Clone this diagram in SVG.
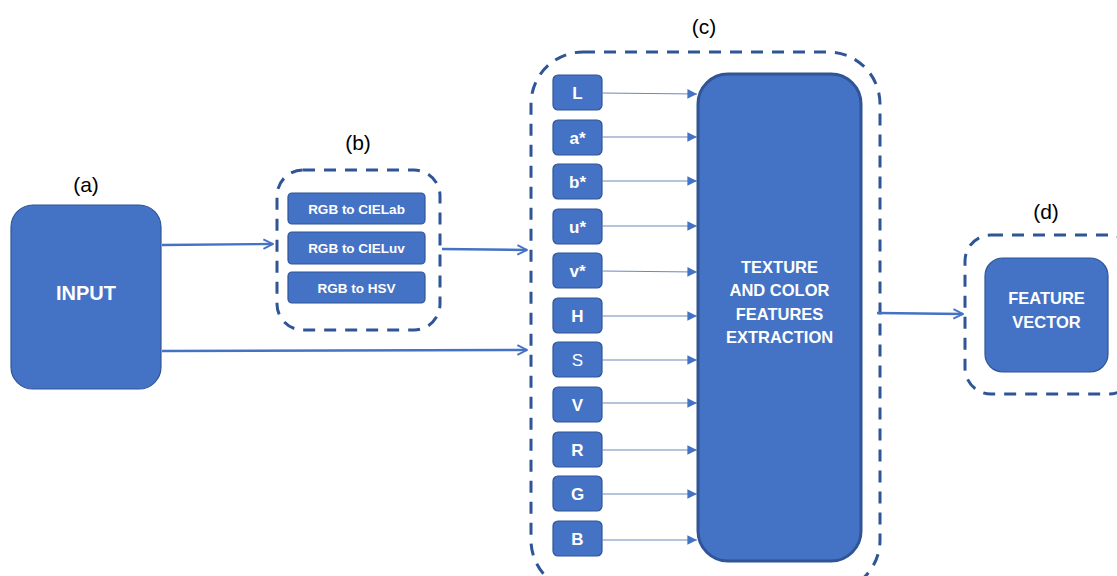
<svg xmlns="http://www.w3.org/2000/svg" width="1117" height="576" viewBox="0 0 1117 576">
  <style>
    .node { fill: #4472C4; stroke: #2F5597; stroke-width: 1.2; }
    .big { fill: #4472C4; stroke: #2F5597; stroke-width: 3; }
    .group { fill: none; stroke: #2F5597; stroke-width: 3; stroke-dasharray: 12 9; }
    .lbl { font-family: "Liberation Sans", Arial, sans-serif; font-weight: bold; fill: #FFFFFF; text-anchor: middle; }
    .cap { font-family: "Liberation Sans", Arial, sans-serif; font-size: 21px; fill: #000000; text-anchor: middle; }
    .main { fill: none; stroke: #4472C4; stroke-width: 2.4; }
    .thin { fill: none; stroke: #6E89B8; stroke-width: 1.2; }
  </style>
  <defs>
    <marker id="open" viewBox="0 0 10 10" refX="9" refY="5" markerWidth="5" markerHeight="5" orient="auto" markerUnits="strokeWidth">
      <path d="M1,1 L9,5 L1,9" fill="none" stroke="#4472C4" stroke-width="1.6"/>
    </marker>
    <marker id="tri" viewBox="0 0 10 10" refX="10" refY="5" markerWidth="8" markerHeight="8" orient="auto" markerUnits="strokeWidth">
      <path d="M0,0 L10,5 L0,10 Z" fill="#4472C4"/>
    </marker>
  </defs>

  <!-- captions -->
  <text class="cap" x="86" y="192">(a)</text>
  <text class="cap" x="358" y="150">(b)</text>
  <text class="cap" x="704" y="34">(c)</text>
  <text class="cap" x="1046" y="219">(d)</text>

  <!-- group outlines -->
  <rect class="group" x="277" y="170" width="163" height="160" rx="26"/>
  <rect class="group" x="531" y="52" width="349" height="540" rx="52"/>
  <rect class="group" x="965" y="235" width="170" height="159" rx="26"/>

  <g id="input">
    <rect class="node" x="11" y="205" width="150" height="184" rx="22"/>
    <text class="lbl" x="86" y="300" font-size="20">INPUT</text>
  </g>

  <g id="conversions">
    <rect class="node" x="288" y="193" width="137" height="31" rx="4"/>
    <text class="lbl" x="356.5" y="214" font-size="13.5">RGB to CIELab</text>
    <rect class="node" x="288" y="232" width="137" height="32" rx="4"/>
    <text class="lbl" x="356.5" y="253" font-size="13.5">RGB to CIELuv</text>
    <rect class="node" x="288" y="272" width="137" height="31" rx="4"/>
    <text class="lbl" x="356.5" y="293" font-size="13.5">RGB to HSV</text>
  </g>

  <g id="channels">
    <rect class="node" x="553" y="75" width="49" height="35" rx="5"/>
    <text class="lbl" x="577.5" y="99" font-size="17">L</text>
    <rect class="node" x="553" y="120" width="49" height="35" rx="5"/>
    <text class="lbl" x="577.5" y="144" font-size="17">a*</text>
    <rect class="node" x="553" y="164" width="49" height="35" rx="5"/>
    <text class="lbl" x="577.5" y="188" font-size="17">b*</text>
    <rect class="node" x="553" y="209" width="49" height="35" rx="5"/>
    <text class="lbl" x="577.5" y="233" font-size="17">u*</text>
    <rect class="node" x="553" y="253" width="49" height="35" rx="5"/>
    <text class="lbl" x="577.5" y="277" font-size="17">v*</text>
    <rect class="node" x="553" y="298" width="49" height="35" rx="5"/>
    <text class="lbl" x="577.5" y="322" font-size="17">H</text>
    <rect class="node" x="553" y="342" width="49" height="35" rx="5"/>
    <text class="lbl" x="577.5" y="366" font-size="17" style="font-weight:normal">S</text>
    <rect class="node" x="553" y="387" width="49" height="35" rx="5"/>
    <text class="lbl" x="577.5" y="411" font-size="17">V</text>
    <rect class="node" x="553" y="432" width="49" height="35" rx="5"/>
    <text class="lbl" x="577.5" y="456" font-size="17">R</text>
    <rect class="node" x="553" y="476" width="49" height="35" rx="5"/>
    <text class="lbl" x="577.5" y="500" font-size="17">G</text>
    <rect class="node" x="553" y="521" width="49" height="35" rx="5"/>
    <text class="lbl" x="577.5" y="545" font-size="17">B</text>
  </g>

  <g id="extraction">
    <rect class="big" x="698" y="74" width="163" height="487" rx="30"/>
    <text class="lbl" x="779.5" y="273" font-size="16.5">TEXTURE</text>
    <text class="lbl" x="779.5" y="296" font-size="16.5">AND COLOR</text>
    <text class="lbl" x="779.5" y="320" font-size="16.5">FEATURES</text>
    <text class="lbl" x="779.5" y="343" font-size="16.5">EXTRACTION</text>
  </g>

  <g id="feature-vector">
    <rect class="node" x="985" y="258" width="123" height="114" rx="18"/>
    <text class="lbl" x="1046.5" y="304" font-size="16.5">FEATURE</text>
    <text class="lbl" x="1046.5" y="328" font-size="16.5">VECTOR</text>
  </g>

  <g id="connectors">
    <line class="main" x1="162" y1="245" x2="273" y2="244" marker-end="url(#open)"/>
    <line class="main" x1="442" y1="249" x2="527" y2="250" marker-end="url(#open)"/>
    <line class="main" x1="162" y1="351" x2="527" y2="350" marker-end="url(#open)"/>
    <line class="main" x1="877" y1="313" x2="963" y2="314" marker-end="url(#open)"/>
    <line class="thin" x1="602" y1="93" x2="697" y2="94" marker-end="url(#tri)"/>
    <line class="thin" x1="602" y1="137" x2="697" y2="137" marker-end="url(#tri)"/>
    <line class="thin" x1="602" y1="181" x2="697" y2="181" marker-end="url(#tri)"/>
    <line class="thin" x1="602" y1="226" x2="697" y2="226" marker-end="url(#tri)"/>
    <line class="thin" x1="602" y1="271" x2="697" y2="272" marker-end="url(#tri)"/>
    <line class="thin" x1="602" y1="316" x2="697" y2="316" marker-end="url(#tri)"/>
    <line class="thin" x1="602" y1="360" x2="697" y2="360" marker-end="url(#tri)"/>
    <line class="thin" x1="602" y1="403" x2="697" y2="403" marker-end="url(#tri)"/>
    <line class="thin" x1="602" y1="450" x2="697" y2="450" marker-end="url(#tri)"/>
    <line class="thin" x1="602" y1="494" x2="697" y2="494" marker-end="url(#tri)"/>
    <line class="thin" x1="602" y1="540" x2="697" y2="540" marker-end="url(#tri)"/>
  </g>
</svg>
